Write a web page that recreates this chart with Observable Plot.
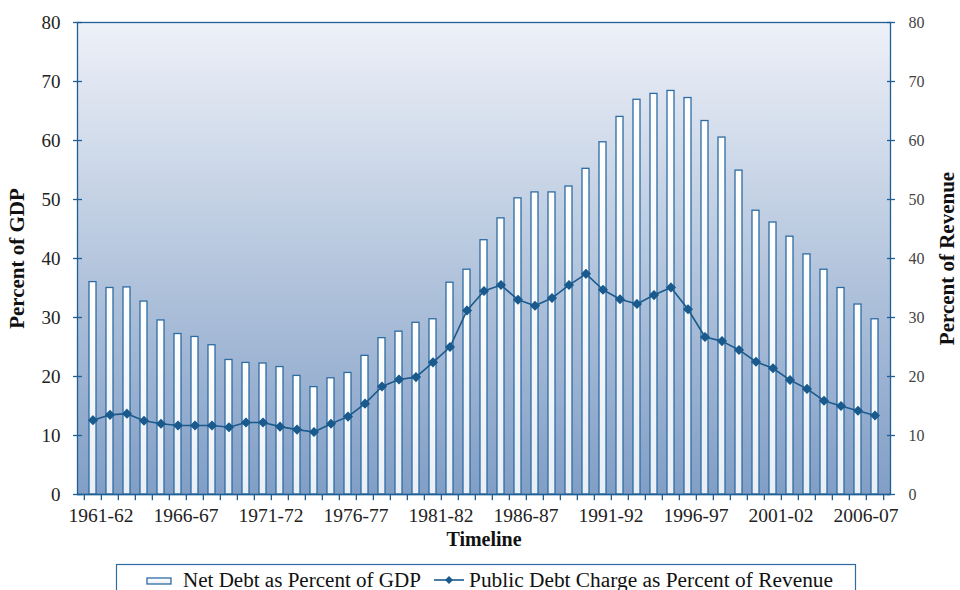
<!DOCTYPE html>
<html>
<head>
<meta charset="utf-8">
<script src="https://cdn.jsdelivr.net/npm/d3@7"></script>
<script src="https://cdn.jsdelivr.net/npm/@observablehq/plot@0.6"></script>
<style>
  html, body { margin: 0; padding: 0; background: #fff; }
  #chart { width: 960px; height: 590px; overflow: hidden; }
</style>
</head>
<body>
<div id="chart"></div>
<script>
const categories = ["1961-62","1962-63","1963-64","1964-65","1965-66","1966-67","1967-68","1968-69","1969-70","1970-71",
  "1971-72","1972-73","1973-74","1974-75","1975-76","1976-77","1977-78","1978-79","1979-80","1980-81",
  "1981-82","1982-83","1983-84","1984-85","1985-86","1986-87","1987-88","1988-89","1989-90","1990-91",
  "1991-92","1992-93","1993-94","1994-95","1995-96","1996-97","1997-98","1998-99","1999-00","2000-01",
  "2001-02","2002-03","2003-04","2004-05","2005-06","2006-07","2007-08"];
const netDebt = [36.0,35.0,35.1,32.7,29.5,27.2,26.7,25.3,22.8,22.3,
  22.2,21.6,20.1,18.2,19.7,20.6,23.5,26.5,27.6,29.1,
  29.7,35.9,38.1,43.1,46.8,50.2,51.2,51.2,52.2,55.2,
  59.7,64.0,66.9,67.9,68.4,67.2,63.3,60.5,54.9,48.1,
  46.1,43.7,40.7,38.1,35.0,32.2,29.7];
const debtCharge = [12.6,13.5,13.7,12.5,12.0,11.7,11.7,11.7,11.4,12.2,
  12.2,11.5,11.0,10.6,12.0,13.2,15.4,18.3,19.5,19.9,
  22.4,25.0,31.2,34.5,35.5,33.0,32.0,33.3,35.5,37.4,
  34.7,33.1,32.3,33.8,35.1,31.4,26.7,26.0,24.5,22.5,
  21.4,19.4,17.9,15.9,15.0,14.2,13.4];
const tickLabels = ["1961-62","1966-67","1971-72","1976-77","1981-82","1986-87","1991-92","1996-97","2001-02","2006-07"];
const yTicks = [0,10,20,30,40,50,60,70,80];
const leftLabel = "Percent of GDP";
const rightLabel = "Percent of Revenue";
const xLabel = "Timeline";
const legendLabels = ["Net Debt as Percent of GDP", "Public Debt Charge as Percent of Revenue"];

const rows = categories.map((c, i) => ({cat: c, debt: netDebt[i], charge: debtCharge[i]}));

const W = 960, H = 590;
const mL = 77, mR = 70, mT = 22, mB = 96;
const step = (W - mL - mR) / categories.length;
const blue = "#1f5f96";
const font = "Liberation Serif";

const plot = Plot.plot({
  width: W, height: H,
  marginLeft: mL, marginRight: mR, marginTop: mT, marginBottom: mB,
  style: {fontFamily: font, background: "transparent", overflow: "visible"},
  x: {type: "band", domain: categories, paddingInner: 0.6, paddingOuter: 0.3},
  y: {domain: [0, 80]},
  marks: [
    Plot.frame({fill: "url(#bgGrad)", stroke: blue, strokeWidth: 1.3}),
    Plot.barY(rows, {x: "cat", y: "debt", fill: "url(#barGrad)", stroke: "#2d6ca3", strokeWidth: 1.3}),
    Plot.lineY(rows, {x: "cat", y: "charge", stroke: "#1b5a8c", strokeWidth: 1.6}),
    Plot.dot(rows, {x: "cat", y: "charge", symbol: "diamond2", r: 3.6, fill: "#1b5a8c", stroke: "#1b5a8c"}),
    // left axis
    Plot.axisY({ticks: yTicks, anchor: "left", tickSize: 4, tickPadding: 13, fontSize: 19, label: null, stroke: blue, strokeWidth: 1.3, color: "#222"}),
    Plot.axisY({ticks: yTicks, anchor: "left", tickSize: -5, tickFormat: () => "", label: null, stroke: blue, strokeWidth: 1.3}),
    // right axis
    Plot.axisY({ticks: yTicks, anchor: "right", tickSize: 4, tickPadding: 14, fontSize: 16, label: null, stroke: blue, strokeWidth: 1.3, color: "#444"}),
    Plot.axisY({ticks: yTicks, anchor: "right", tickSize: -4, tickFormat: () => "", label: null, stroke: blue, strokeWidth: 1.3}),
    // x axis labels
    Plot.axisX({ticks: tickLabels, tickSize: 0, tickPadding: 14, fontSize: 19.5, label: null, dx: 8, color: "#222"}),
    // x boundary ticks
    Plot.ruleX(categories, {x: d => d, dx: -step / 2, y1: 0, y2: -1.05, stroke: blue, strokeWidth: 1.3}),
    Plot.ruleX([categories[categories.length - 1]], {x: d => d, dx: step / 2, y1: 0, y2: -1.05, stroke: blue, strokeWidth: 1.3}),
    Plot.ruleY([0], {stroke: blue, strokeWidth: 1.5}),
    // axis titles
    Plot.text([leftLabel], {text: d => d, frameAnchor: "left", textAnchor: "middle", dx: -60, rotate: -90, fontSize: 21, fontWeight: "bold", fill: "#111"}),
    Plot.text([rightLabel], {text: d => d, frameAnchor: "right", textAnchor: "middle", dx: 57, rotate: -90, fontSize: 21, fontWeight: "bold", fill: "#111"}),
    Plot.text([xLabel], {text: d => d, frameAnchor: "bottom", dy: 51, fontSize: 20, fontWeight: "bold", fill: "#111"})
  ]
});

const svg = d3.select(plot);
const defs = svg.insert("defs", ":first-child");
const bg = defs.append("linearGradient").attr("id", "bgGrad").attr("x1", 0).attr("y1", 0).attr("x2", 0).attr("y2", 1);
bg.append("stop").attr("offset", "0%").attr("stop-color", "#eef1f8");
bg.append("stop").attr("offset", "50%").attr("stop-color", "#b6c7de");
bg.append("stop").attr("offset", "100%").attr("stop-color", "#819ec6");
const bg2 = defs.append("linearGradient").attr("id", "barGrad").attr("x1", 0).attr("y1", 0).attr("x2", 0).attr("y2", 1);
bg2.append("stop").attr("offset", "0%").attr("stop-color", "#ffffff");
bg2.append("stop").attr("offset", "100%").attr("stop-color", "#e9eef6");

// legend
const lg = svg.append("g").attr("text-anchor", "start");
lg.append("rect").attr("x", 116.5).attr("y", 564.5).attr("width", 739).attr("height", 40)
  .attr("fill", "#fff").attr("stroke", "#2d6ca3").attr("stroke-width", 1.2);
lg.append("rect").attr("x", 147).attr("y", 578).attr("width", 24).attr("height", 6)
  .attr("fill", "url(#barGrad)").attr("stroke", "#2d6ca3").attr("stroke-width", 1.3);
lg.append("text").attr("x", 183).attr("y", 587).attr("text-anchor", "start").attr("font-family", font).attr("font-size", 20)
  .attr("fill", "#111").attr("textLength", 238).attr("lengthAdjust", "spacingAndGlyphs").text(legendLabels[0]);
lg.append("line").attr("x1", 434).attr("x2", 464).attr("y1", 580).attr("y2", 580)
  .attr("stroke", "#1b5a8c").attr("stroke-width", 1.6);
lg.append("path").attr("d", "M449,576L453,580L449,584L445,580Z").attr("fill", "#1b5a8c");
lg.append("text").attr("x", 469).attr("y", 587).attr("text-anchor", "start").attr("font-family", font).attr("font-size", 20)
  .attr("fill", "#111").attr("textLength", 364).attr("lengthAdjust", "spacingAndGlyphs").text(legendLabels[1]);

document.getElementById("chart").appendChild(plot);
</script>
</body>
</html>
